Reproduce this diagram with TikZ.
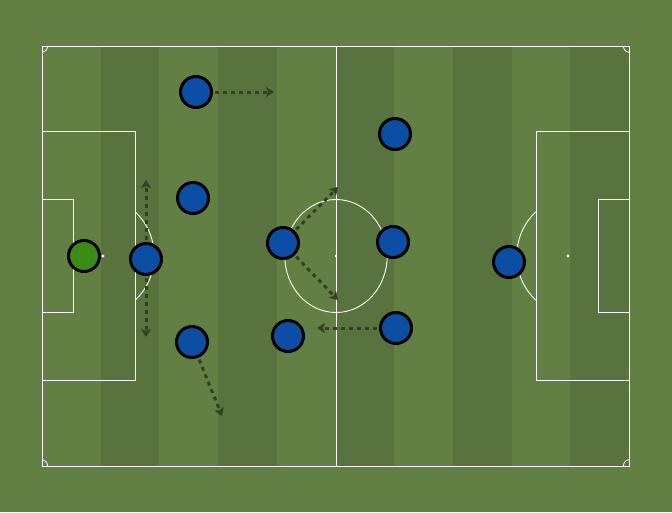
\documentclass[tikz,border=0pt]{standalone}
\usetikzlibrary{arrows.meta}
\definecolor{grass}{RGB}{98,128,68}
\definecolor{grassdark}{RGB}{89,115,62}
\definecolor{kitblue}{RGB}{12,78,164}
\definecolor{kitgreen}{RGB}{58,138,22}
\definecolor{runcol}{RGB}{50,64,40}
\tikzset{
  player/.style={circle, draw=black, line width=3pt, minimum size=31pt, inner sep=0pt, fill=kitblue},
  keeper/.style={player, fill=kitgreen},
  run/.style={runcol, line width=3pt, dash pattern=on 4pt off 4pt, -{Stealth[length=8pt,width=10pt,inset=2pt]}, shorten <=2pt},
  pline/.style={white, line width=0.9pt}
}
\begin{document}
\begin{tikzpicture}[x=1pt, y=-1pt]
\fill[grass] (0,0) rectangle (672,512);
\useasboundingbox (0,0) rectangle (672,512);
% stripes
\foreach \i in {1,3,5,7,9}
  \fill[grassdark] ({42+\i*58.7}, 46) rectangle ({42+(\i+1)*58.7}, 466);
% pitch
\draw[pline] (42,46) rectangle (629,466);
\draw[pline] (336,46) -- (336,466);
\draw[pline] (336,256) ellipse (51.2 and 56.5);
\fill[white] (336,256) circle (1.3);
\draw[pline] (42,131) rectangle (135,380);
\draw[pline] (629,131) rectangle (536,380);
\draw[pline] (42,199) rectangle (73,312);
\draw[pline] (629,199) rectangle (598,312);
\fill[white] (103,256) circle (1.6);
\fill[white] (568,256) circle (1.6);
% penalty arcs
\begin{scope}
  \clip (135,0) rectangle (672,512);
  \draw[pline] (103,256) ellipse (51.2 and 56.5);
\end{scope}
\begin{scope}
  \clip (0,0) rectangle (536,512);
  \draw[pline] (568,256) ellipse (51.2 and 56.5);
\end{scope}
% corners
\begin{scope}
  \clip (42,46) rectangle (629,466);
  \foreach \cx/\cy in {42/46, 629/46, 42/466, 629/466}
    \draw[pline, line width=0.8pt] (\cx,\cy) ellipse (5.6 and 6.2);
\end{scope}
% players
\node[keeper] (gk) at (84,256) {};
\foreach \n/\x/\y in {cb/146/259, lt/196/92, lc/193/198, lb/192/342,
  cm/283/243, dm/288/336, am/393/242, rm/396/328, rt/395/134, st/509/262}
  \node[player] (\n) at (\x,\y) {};
% runs
\coordinate (ltrun) at (274,92);
\coordinate (cbup) at (146,180);
\coordinate (cbdown) at (146,337);
\coordinate (cmup) at (338,187);
\coordinate (cmdown) at (338,300);
\coordinate (rmrun) at (317,328);
\coordinate (lbrun) at (222,416);
\draw[run] (lt) -- (ltrun);
\draw[run] (cb) -- (cbup);
\draw[run] (cb) -- (cbdown);
\draw[run] (cm) -- (cmup);
\draw[run] (cm) -- (cmdown);
\draw[run] (rm) -- (rmrun);
\draw[run] (lb) -- (lbrun);
\end{tikzpicture}
\end{document}
